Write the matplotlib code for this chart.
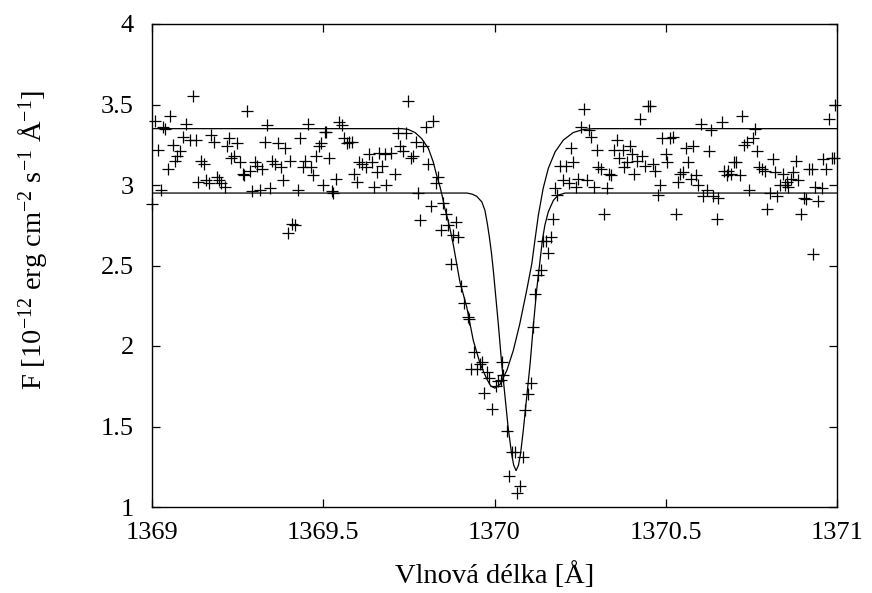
import matplotlib
matplotlib.use("Agg")
import matplotlib.pyplot as plt

plt.rcParams['font.family'] = ['Liberation Serif', 'DejaVu Serif']
plt.rcParams['mathtext.fontset'] = 'custom'
plt.rcParams['mathtext.rm'] = 'Liberation Serif'
plt.rcParams['mathtext.it'] = 'Liberation Serif:italic'
plt.rcParams['mathtext.bf'] = 'Liberation Serif:bold'

# ------------------------------
# measured spectrum (wavelength [A], flux)
# ------------------------------
obs_x = [
    1369.120, 1369.053, 1369.008, 1369.032, 1369.037, 1369.098, 1369.277, 1369.337, 1369.456, 1369.504,
    1369.018, 1369.061, 1369.091, 1369.110, 1369.129, 1369.173, 1369.181, 1369.225, 1369.219, 1369.247,
    1369.083, 1369.074, 1369.066, 1369.047, 1369.142, 1369.151, 1369.239, 1369.232, 1369.256, 1369.266,
    1369.269, 1369.285, 1369.300, 1369.307, 1369.321, 1369.329, 1369.350, 1369.358, 1369.368, 1369.376,
    1369.387, 1369.404, 1369.382, 1369.433, 1369.448, 1369.441, 1369.465, 1369.470, 1369.480, 1369.487,
    1369.494, 1369.134, 1369.159, 1369.166, 1369.190, 1369.196, 1369.202, 1369.212, 1369.025, 1369.292,
    1369.314, 1369.345, 1369.426, 1369.499, 1369.000, 1369.410, 1369.418, 1369.397,
    1369.747, 1369.821, 1369.799, 1369.546, 1369.554, 1369.508, 1369.561, 1369.568, 1369.576, 1369.585,
    1369.517, 1369.719, 1369.741, 1369.770, 1369.792, 1369.724, 1369.732, 1369.634, 1369.664, 1369.680,
    1369.698, 1369.755, 1369.761, 1369.605, 1369.614, 1369.624, 1369.643, 1369.671, 1369.807, 1369.590,
    1369.658, 1369.709, 1369.537, 1369.598, 1369.648, 1369.683, 1369.525, 1369.529, 1369.776, 1369.836,
    1369.829, 1369.814, 1369.851, 1369.858, 1369.782, 1369.865, 1369.888, 1369.843, 1369.878, 1369.894,
    1369.873, 1369.902, 1369.911, 1369.922, 1369.926,
    1370.177, 1370.183, 1370.170, 1370.164, 1370.143, 1370.149, 1370.157, 1370.135, 1370.126, 1370.119,
    1370.113,
    1369.940, 1369.958, 1369.963, 1369.931, 1369.948, 1369.979, 1369.985, 1369.970, 1370.003, 1370.011,
    1370.019, 1370.026, 1370.023, 1369.992, 1370.036, 1370.050, 1370.060, 1370.082, 1370.043, 1370.074,
    1370.065, 1370.106, 1370.099, 1370.090,
    1370.261, 1370.449, 1370.454, 1370.425, 1370.252, 1370.277, 1370.282, 1370.223, 1370.298, 1370.357,
    1370.350, 1370.374, 1370.396, 1370.364, 1370.402, 1370.388, 1370.379, 1370.415, 1370.432, 1370.439,
    1370.462, 1370.469, 1370.408, 1370.490, 1370.500, 1370.505, 1370.483, 1370.476, 1370.191, 1370.209,
    1370.230, 1370.303, 1370.311, 1370.334, 1370.340, 1370.201, 1370.218, 1370.238, 1370.245, 1370.269,
    1370.291, 1370.328, 1370.320,
    1370.722, 1370.603, 1370.663, 1370.632, 1370.761, 1370.976, 1370.995, 1370.512, 1370.520, 1370.559,
    1370.580, 1370.626, 1370.566, 1370.549, 1370.543, 1370.537, 1370.573, 1370.588, 1370.595, 1370.620,
    1370.610, 1370.639, 1370.653, 1370.529, 1370.649, 1370.729, 1370.738, 1370.754, 1370.767, 1370.705,
    1370.699, 1370.671, 1370.682, 1370.678, 1370.690, 1370.717, 1370.744, 1370.773, 1370.780, 1370.790,
    1370.812, 1370.819, 1370.843, 1370.872, 1370.879, 1370.866, 1370.887, 1370.853, 1370.834, 1370.849,
    1370.858, 1370.804, 1370.826, 1370.796, 1370.894, 1370.904, 1370.910, 1370.919, 1370.926, 1370.960,
    1370.984, 1370.991, 1370.968, 1370.936, 1370.955, 1370.945, 1370.931,
]
obs_y = [
    3.55, 3.43, 3.40, 3.36, 3.35, 3.38, 3.46, 3.37, 3.38, 3.33,
    3.22, 3.25, 3.30, 3.28, 3.28, 3.31, 3.27, 3.29, 3.24, 3.26,
    3.21, 3.18, 3.15, 3.10, 3.15, 3.13, 3.18, 3.17, 3.14, 3.07,
    3.06, 3.09, 3.14, 3.12, 3.10, 3.27, 3.15, 3.13, 3.26, 3.11,
    3.23, 3.15, 3.03, 3.29, 3.15, 3.11, 3.11, 3.06, 3.18, 3.24,
    3.26, 3.02, 3.03, 3.01, 3.05, 3.03, 3.01, 2.99, 2.97, 2.96,
    2.97, 2.98, 2.97, 3.00, 2.88, 2.76, 2.75, 2.70,
    3.52, 3.40, 3.36, 3.39, 3.37, 3.33, 3.29, 3.26, 3.27, 3.27,
    3.17, 3.32, 3.32, 3.27, 3.24, 3.24, 3.21, 3.19, 3.20, 3.19,
    3.20, 3.17, 3.18, 3.14, 3.13, 3.11, 3.14, 3.12, 3.13, 3.07,
    3.08, 3.07, 3.04, 3.02, 2.99, 3.00, 2.96, 2.95, 2.95, 3.05,
    3.01, 2.87, 2.89, 2.82, 2.78, 2.75, 2.77, 2.72, 2.69, 2.68,
    2.51, 2.37, 2.27, 2.18, 2.17,
    2.98, 2.94, 2.79, 2.68, 2.65, 2.65, 2.58, 2.47, 2.44, 2.32,
    2.12,
    1.96, 1.89, 1.90, 1.86, 1.86, 1.84, 1.80, 1.71, 1.75, 1.78,
    1.79, 1.82, 1.90, 1.61, 1.47, 1.34, 1.34, 1.31, 1.19, 1.13,
    1.09, 1.77, 1.70, 1.60,
    3.47, 3.49, 3.49, 3.41, 3.36, 3.34, 3.30, 3.23, 3.22, 3.28,
    3.22, 3.22, 3.24, 3.17, 3.19, 3.14, 3.11, 3.15, 3.18, 3.12,
    3.13, 3.09, 3.07, 3.29, 3.19, 3.14, 3.00, 2.94, 3.12, 3.12,
    3.14, 3.11, 3.10, 3.07, 3.06, 3.03, 3.01, 2.99, 3.04, 3.03,
    2.99, 2.98, 2.82,
    3.43, 3.38, 3.39, 3.34, 3.35, 3.41, 3.50, 3.29, 3.30, 3.23,
    3.24, 3.21, 3.14, 3.08, 3.07, 3.02, 3.04, 3.06, 3.00, 2.97,
    2.93, 2.93, 2.92, 2.82, 2.79, 3.25, 3.27, 3.29, 3.21, 3.14,
    3.14, 3.09, 3.09, 3.06, 3.07, 3.06, 2.97, 3.11, 3.10, 3.09,
    3.16, 3.08, 3.07, 3.08, 3.15, 3.04, 3.03, 3.02, 3.00, 3.00,
    2.99, 2.95, 2.93, 2.85, 2.82, 2.92, 2.91, 3.10, 3.10, 3.16,
    3.17, 3.17, 3.10, 2.99, 2.98, 2.90, 2.57,
]

# ------------------------------
# fitted profiles
# ------------------------------
fit1_x = [1369.000, 1369.730, 1369.748, 1369.768, 1369.787, 1369.807, 1369.821, 1369.831, 1369.841,
          1369.849, 1369.855, 1369.863, 1369.870, 1369.880, 1369.899, 1369.919, 1369.938, 1369.958,
          1369.977, 1369.989, 1370.001, 1370.016, 1370.036, 1370.055, 1370.074, 1370.094, 1370.109,
          1370.118, 1370.128, 1370.142, 1370.157, 1370.177, 1370.201, 1370.230, 1370.259, 1370.288,
          1371.000]
fit1_y = [3.350, 3.350, 3.345, 3.326, 3.289, 3.227, 3.144, 3.061, 2.988,
          2.916, 2.854, 2.792, 2.729, 2.626, 2.398, 2.242, 2.035, 1.890,
          1.797, 1.752, 1.738, 1.761, 1.848, 1.973, 2.139, 2.346, 2.512,
          2.657, 2.812, 2.978, 3.103, 3.206, 3.279, 3.326, 3.345, 3.350,
          3.350]

fit2_x = [1369.000, 1369.920, 1369.935, 1369.948, 1369.963, 1369.972, 1369.979, 1369.985, 1369.991,
          1369.997, 1370.004, 1370.011, 1370.021, 1370.031, 1370.040, 1370.050, 1370.056, 1370.063,
          1370.070, 1370.076, 1370.084, 1370.094, 1370.104, 1370.113, 1370.123, 1370.133, 1370.140,
          1370.147, 1370.157, 1370.172, 1370.186, 1370.206, 1371.000]
fit2_y = [2.950, 2.950, 2.943, 2.930, 2.895, 2.843, 2.761, 2.677, 2.580,
          2.460, 2.300, 2.140, 1.890, 1.680, 1.490, 1.330, 1.260, 1.226,
          1.260, 1.330, 1.475, 1.682, 1.890, 2.117, 2.346, 2.532, 2.660,
          2.750, 2.833, 2.905, 2.937, 2.950, 2.950]

x_ticks = [1369, 1369.5, 1370, 1370.5, 1371]
x_tick_labels = ['1369', '1369.5', '1370', '1370.5', '1371']
y_ticks = [1, 1.5, 2, 2.5, 3, 3.5, 4]
y_tick_labels = ['1', '1.5', '2', '2.5', '3', '3.5', '4']

# ------------------------------
# plot
# ------------------------------
fig = plt.figure(figsize=(8.72, 5.93), dpi=100)
ax = fig.add_axes([152/872, 1 - 507/593, 685/872, 483/593])

ax.plot(obs_x, obs_y, linestyle='none', marker='+', markersize=8,
        markeredgewidth=0.9, color='black', clip_on=False)
ax.plot(fit1_x, fit1_y, color='black', linewidth=0.9)
ax.plot(fit2_x, fit2_y, color='black', linewidth=0.9)

ax.set_xlim(1369, 1371)
ax.set_ylim(1, 4)
ax.set_xticks(x_ticks)
ax.set_xticklabels(x_tick_labels)
ax.set_yticks(y_ticks)
ax.set_yticklabels(y_tick_labels)
ax.tick_params(direction='in', length=6, width=0.9, labelsize=19,
               top=True, right=True)
ax.tick_params(axis='x', pad=11)
ax.tick_params(axis='y', pad=13)
for s in ax.spines.values():
    s.set_linewidth(1.0)

ax.set_xlabel('Vlnová délka [Å]', fontsize=20.5, labelpad=13)
fig.text(33/872, 1 - 240/593,
         r'F [10$^{-12}$ erg cm$^{-2}$ s$^{-1}$ Å$^{-1}$]',
         rotation=90, ha='center', va='center', fontsize=20.5)

fig.savefig('out.png', dpi=100)
